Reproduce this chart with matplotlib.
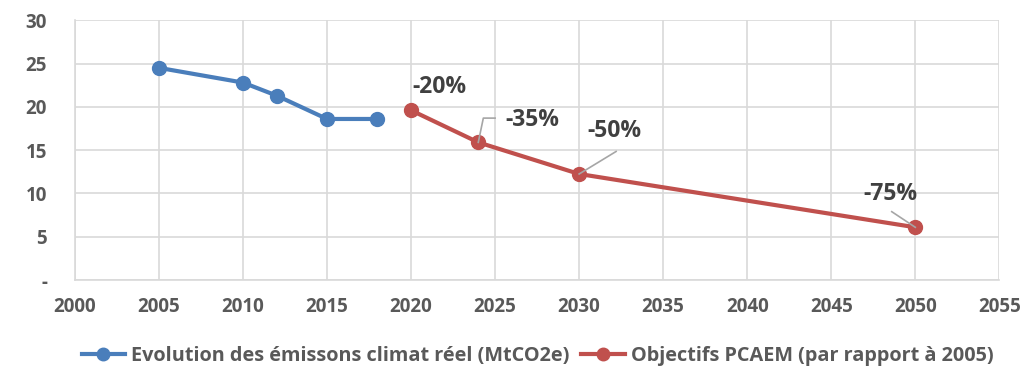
import matplotlib.pyplot as plt
from matplotlib.lines import Line2D

plt.rcParams['font.family'] = ['Open Sans', 'DejaVu Sans']
plt.rcParams['font.weight'] = 'bold'

years_real = [2005, 2010, 2012, 2015, 2018]
emissions_real = [24.5, 22.8, 21.3, 18.6, 18.6]

years_target = [2020, 2024, 2030, 2050]
emissions_target = [19.6, 15.9, 12.25, 6.1]
target_labels = ['-20%', '-35%', '-50%', '-75%']

blue = '#4a7ebb'
red = '#c0504d'
grey_text = '#595959'
leader = '#a6a6a6'

fig = plt.figure(figsize=(10.26, 3.74), dpi=100)
ax = fig.add_axes([0.073, 0.251, 0.901, 0.695])

ax.plot(years_real, emissions_real, color=blue, lw=3, marker='o', ms=10, zorder=3)
ax.plot(years_target, emissions_target, color=red, lw=3, marker='o', ms=10, zorder=3)

# label offsets in data units (years, MtCO2e)
offsets = [(1.7, 2.7), (3.2, 2.6), (2.1, 5.0), (-1.5, 3.8)]
for x, y, lab, (dx, dy) in zip(years_target, emissions_target, target_labels, offsets):
    ax.text(x + dx, y + dy, lab, ha='center', va='center', fontsize=16.5,
            color='#404040', fontweight='bold', zorder=5)

# leader lines from points to their labels
x, y = years_target[1], emissions_target[1]
ax.plot([x, x + 0.3, x + 1.0], [y, y + 2.8, y + 2.8], color=leader, lw=1.2, zorder=4)
x, y = years_target[2], emissions_target[2]
ax.plot([x, x + 2.2], [y, y + 2.6], color=leader, lw=1.2, zorder=4)
x, y = years_target[3], emissions_target[3]
ax.plot([x, x - 1.4], [y, y + 1.8], color=leader, lw=1.2, zorder=4)

ax.set_xlim(2000, 2055)
ax.set_ylim(0, 30)
ax.set_xticks(range(2000, 2056, 5))
ax.set_yticks(range(0, 31, 5))
ax.set_yticklabels(['-'] + [str(v) for v in range(5, 31, 5)])
ax.grid(True, color='#d9d9d9', lw=1.2)
ax.set_axisbelow(True)
for side in ['top', 'right']:
    ax.spines[side].set_visible(False)
for side in ['left', 'bottom']:
    ax.spines[side].set_color('#d9d9d9')
    ax.spines[side].set_linewidth(1.2)
ax.tick_params(length=0, labelsize=13.5, labelcolor=grey_text, pad=12)
ax.tick_params(axis='y', pad=20)
for t in ax.get_xticklabels() + ax.get_yticklabels():
    t.set_fontweight('bold')

handles = [
    Line2D([0], [0], color=blue, lw=3, marker='o', ms=9),
    Line2D([0], [0], color=red, lw=3, marker='o', ms=9),
]
fig.legend(handles, ['Evolution des émissons climat réel (MtCO2e)', 'Objectifs PCAEM (par rapport à 2005)'],
           loc='center', bbox_to_anchor=(0.524, 0.048), ncol=2, frameon=False,
           prop={'size': 14.3, 'weight': 'bold'}, labelcolor=grey_text,
           handlelength=2.2, handletextpad=0.3, columnspacing=0.6)

fig.savefig('out.png', dpi=100)
